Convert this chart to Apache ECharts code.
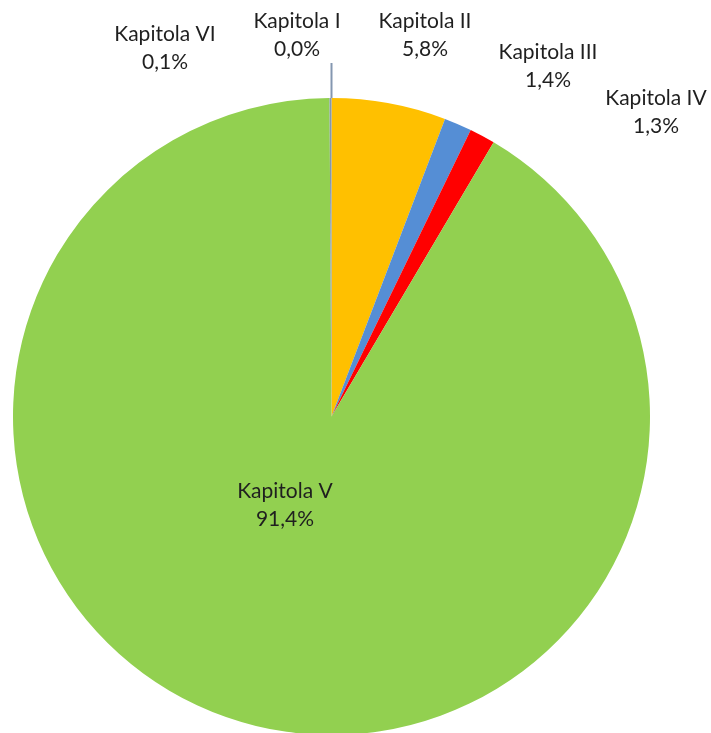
<!DOCTYPE html>
<html>
<head>
<meta charset="utf-8">
<script src="https://cdn.jsdelivr.net/npm/echarts@6/dist/echarts.min.js"></script>
<style>
html,body{margin:0;padding:0;background:#fff;}
#main{width:711px;height:733px;}
</style>
</head>
<body>
<div id="main"></div>
<script>
const categories = ['Kapitola I', 'Kapitola II', 'Kapitola III', 'Kapitola IV', 'Kapitola V', 'Kapitola VI'];
const shares = [0.0, 5.8, 1.4, 1.3, 91.4, 0.1];
const colors = ['#44546A', '#FFC000', '#558ED5', '#FF0000', '#92D050', '#8497B0'];

// label block centres, as placed in the reference
const labelSpots = [
  [297, 35], [425, 35], [548, 66], [656, 112], [285, 505], [165, 48]
];
const pieCenter = [331.5, 416.5];

const chart = echarts.init(document.getElementById('main'), null, {renderer: 'canvas'});
chart.setOption({
  animation: false,
  backgroundColor: '#ffffff',
  series: [{
    type: 'pie',
    center: pieCenter,
    radius: 318.5,
    startAngle: 90,
    clockwise: true,
    avoidLabelOverlap: false,
    itemStyle: {borderWidth: 0},
    emphasis: {disabled: true},
    label: {
      show: true,
      position: 'outside',
      formatter: p => p.name + '\n' + p.value.toFixed(1).replace('.', ',') + '%',
      fontFamily: 'Lato',
      fontSize: 21,
      lineHeight: 28,
      color: '#1f1f1f',
      align: 'center'
    },
    labelLine: {show: false},
    labelLayout: function (params) {
      const i = params.dataIndex;
      const s = labelSpots[i];
      if (i === 0) {
        // box is padded on the right; centre the box over the slice so the leader is vertical
        return {x: pieCenter[0], y: s[1], align: 'center', verticalAlign: 'middle'};
      }
      return {x: s[0], y: s[1], align: 'center', verticalAlign: 'middle'};
    },
    data: categories.map((c, i) => ({
      name: c,
      value: shares[i],
      itemStyle: {color: colors[i]},
      label: i === 0 ? {padding: [0, 69, 0, 0]} : {},
      labelLine: i === 0 ? {show: true, length: 5, length2: 0, lineStyle: {color: '#8497B0', width: 2}} : {show: false}
    }))
  }]
});
</script>
</body>
</html>
